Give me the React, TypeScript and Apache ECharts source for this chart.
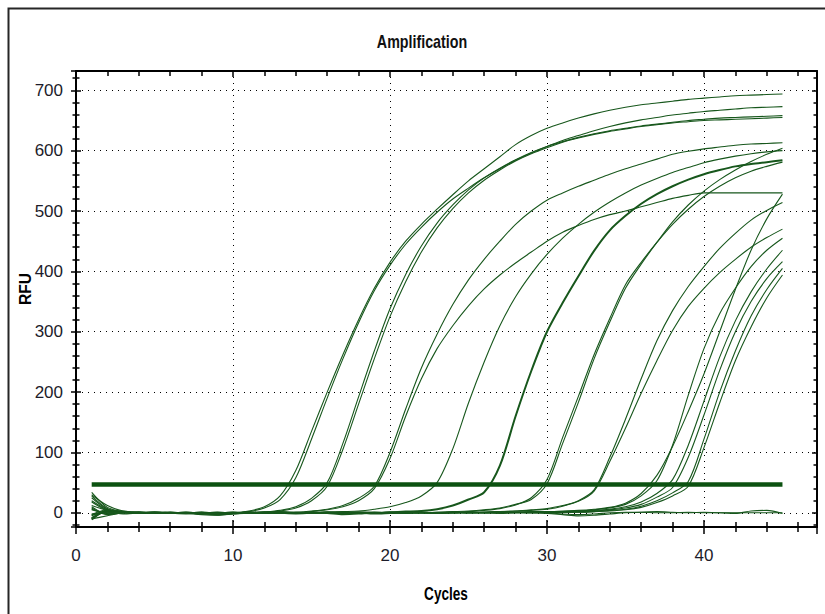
import React, { useEffect, useRef } from "react";
import * as echarts from "echarts";

// ---- data ----
const cycles = [1, 2, 3, 4, 5, 6, 7, 8, 9, 10, 11, 12, 13, 14, 15, 16, 17, 18, 19, 20, 21, 22, 23, 24, 25, 26, 27, 28, 29, 30, 31, 32, 33, 34, 35, 36, 37, 38, 39, 40, 41, 42, 43, 44, 45];

const thresholdValue = 47;
const thresholdSpan = [1, 45];

const wellA1 = [12, 4, 1, 0, 0, 1, 0, -2, -1, 0, 3, 10, 28, 70, 135, 200, 262, 320, 372, 415, 450, 478, 503, 527, 550, 570, 590, 610, 625, 637, 646, 654, 661, 667, 672, 676, 679, 682, 685, 687, 689, 691, 692, 693, 694];
const wellA2 = [-8, 2, 0, 1, -1, 0, 1, 0, -2, 0, 2, 8, 22, 58, 122, 190, 255, 315, 368, 410, 445, 473, 498, 520, 538, 555, 570, 584, 596, 607, 617, 625, 633, 640, 646, 651, 655, 659, 662, 665, 667, 669, 671, 672, 673];
const wellB1 = [20, 5, -2, 0, 1, 0, -1, 0, 1, 0, -1, 1, 4, 10, 24, 50, 115, 192, 268, 338, 395, 442, 480, 510, 535, 555, 571, 585, 597, 607, 615, 622, 628, 633, 637, 641, 644, 647, 650, 652, 654, 655, 656, 657, 658];
const wellB2 = [-5, 3, 1, -1, 0, 1, 0, -1, 0, 1, 0, 1, 3, 8, 20, 44, 105, 180, 255, 325, 383, 432, 472, 504, 530, 551, 568, 583, 595, 605, 614, 621, 627, 632, 636, 640, 643, 646, 648, 650, 651, 652, 653, 654, 655];
const wellC1 = [25, 6, 0, 1, 0, -1, 0, 1, 0, -1, 0, 1, 0, 1, 3, 6, 12, 24, 44, 100, 172, 240, 296, 345, 386, 420, 450, 478, 500, 518, 530, 541, 551, 561, 570, 578, 586, 594, 599, 603, 606, 609, 611, 612, 613];
const wellC2 = [-9, 2, 1, 0, -1, 0, 1, 0, -1, 0, 1, 0, 1, 0, 2, 5, 10, 20, 40, 90, 160, 222, 272, 310, 343, 371, 394, 414, 432, 450, 465, 476, 486, 494, 500, 507, 514, 521, 526, 530, 530, 530, 530, 530, 530];
const wellD = [8, -3, 0, 1, 0, -1, 0, 1, 0, -1, 0, 0, 1, 0, 0, 1, 2, 3, 6, 10, 17, 28, 50, 106, 182, 250, 310, 358, 396, 428, 455, 478, 498, 515, 530, 543, 554, 564, 572, 580, 586, 591, 595, 598, 600];
const wellE = [-11, 4, 2, 0, 1, 0, -1, 0, -3, -1, 0, 1, 0, -1, 0, 1, 0, 1, 0, 1, 2, 3, 6, 12, 22, 34, 78, 160, 235, 300, 348, 392, 434, 468, 492, 512, 528, 541, 552, 561, 568, 574, 578, 581, 584];
const wellF1 = [10, -2, 1, 0, -1, 0, 1, 0, 0, 1, 0, -1, 0, 1, 0, 0, -1, 0, 1, 0, 0, 1, 0, 1, 2, 4, 7, 13, 25, 55, 125, 193, 262, 322, 378, 415, 448, 478, 503, 524, 541, 555, 566, 574, 581];
const wellF2 = [-3, 5, 0, 1, 0, -1, 0, 0, 1, 0, -1, 0, 1, 0, -1, 0, 1, 0, 0, 1, 0, 0, 1, 2, 3, 5, 8, 14, 22, 48, 115, 183, 255, 316, 372, 412, 448, 482, 510, 533, 552, 568, 582, 594, 604];
const wellG1 = [5, -1, 0, 1, 0, 0, -1, 0, 1, 0, 0, 1, 0, 0, 1, 0, 0, -1, 0, 0, 1, 0, 0, 1, 0, 1, 2, 3, 4, 6, 11, 20, 38, 92, 155, 222, 285, 335, 375, 408, 438, 463, 485, 501, 514];
const wellG2 = [-8, 3, 1, 0, -1, 1, 0, 0, -1, 0, 1, 0, 0, -1, 0, 1, 0, 0, 1, 0, 0, 1, 0, 0, 1, 1, 2, 3, 5, 7, 12, 19, 36, 85, 140, 198, 252, 302, 342, 372, 398, 420, 440, 456, 470];
const wellL1 = [18, 4, 0, 1, 0, 0, -1, 0, 0, 1, 0, 0, -1, 0, 1, 0, 0, 0, -1, 0, 1, 0, 0, 1, 0, 0, 1, 1, 2, 2, 3, 4, 6, 9, 16, 32, 62, 110, 168, 230, 300, 370, 435, 487, 528];
const wellL2 = [-4, 2, 1, 0, 0, -1, 0, 1, 0, 0, 0, 1, 0, -1, 0, 0, 1, 0, 0, 0, -1, 0, 0, 1, 0, 0, 1, 1, 1, 2, 2, 3, 5, 8, 14, 28, 53, 112, 195, 272, 330, 372, 408, 435, 455];
const wellL3 = [28, 7, 1, 0, 1, 0, 0, -1, 0, 0, 1, 0, 0, 0, -1, 0, 0, 1, 0, 0, 0, 0, -1, 0, 1, 0, 0, 1, 1, 1, 2, 3, 4, 6, 10, 18, 32, 55, 112, 185, 258, 318, 366, 404, 435];
const wellL4 = [-2, 1, 0, 0, 1, 0, -1, 0, 0, 1, 0, 0, 1, 0, 0, -1, 0, 0, 0, 1, 0, 0, 0, 0, 0, 1, 0, 0, 1, 1, 1, 2, 3, 5, 8, 14, 26, 42, 92, 162, 236, 300, 350, 388, 416];
const wellL5 = [6, 0, 1, 0, 0, 0, 1, 0, -1, 0, 0, 0, 1, 0, 0, 0, 0, -1, 0, 0, 1, 0, 0, 0, 0, 0, 1, 0, 0, 1, 1, 1, 2, 4, 6, 11, 20, 33, 52, 122, 200, 268, 326, 370, 405];
const wellL6 = [34, 9, 2, 0, 1, 0, 0, 0, -1, 0, 1, 0, 0, 0, 0, 1, 0, 0, -1, 0, 0, 0, 1, 0, 0, 0, 0, 1, 0, 0, 1, 1, 2, 3, 5, 9, 17, 28, 44, 108, 182, 252, 308, 356, 394];
const wellN1 = [30, 12, 3, 1, 0, 0, -1, -3, -4, -2, 0, 1, 0, 0, -1, 0, 1, 0, -2, -1, 0, 1, 0, 0, 1, 0, -1, 0, 0, -1, -3, -5, -4, -2, 0, 1, 0, 0, 1, 0, 0, -1, 3, 4, -1];
const wellN2 = [-10, -5, 0, 1, 0, -1, 0, -2, -1, 0, 1, 0, 2, 1, 0, -1, -3, -2, 0, 1, 1, 0, -1, 0, 0, 1, 2, 1, 0, 0, -2, -3, -2, 0, 1, 1, 2, 1, 0, 1, 0, 0, 0, 0, 0];

const wells = [wellA1, wellA2, wellB1, wellB2, wellC1, wellC2, wellD, wellE, wellF1, wellF2, wellG1, wellG2, wellL1, wellL2, wellL3, wellL4, wellL5, wellL6, wellN1, wellN2];
const thickWells = [wellE];

const chartTitle = "Amplification";
const xName = "Cycles";
const yName = "RFU";

// ---- styling ----
const FONT = "'Liberation Sans', Arial, sans-serif";
const GREEN = "#17571c";
const X_MIN = 0;
const X_MAX = 47.2;
const Y_MIN = -23.5;
const Y_MAX = 732;
const GRID = { left: 76, top: 71, width: 741, height: 456 };

export default function App() {
  const ref = useRef<HTMLDivElement>(null);

  useEffect(() => {
    if (!ref.current) return;
    const chart = echarts.init(ref.current, null, { renderer: "svg" });

    const dotted = { color: "#000", type: [1, 5] as number[], width: 1 };
    const black = { color: "#000", width: 1.5 };

    const wellSeries = wells.map((w, i) => ({
      type: "line",
      name: "well" + i,
      xAxisIndex: 0,
      yAxisIndex: 0,
      data: cycles.map((c, k) => [c, w[k]]),
      symbol: "none",
      showSymbol: false,
      smooth: 0.3,
      silent: true,
      lineStyle: { color: GREEN, width: thickWells.includes(w) ? 2 : 1.1 },
      emphasis: { disabled: true },
      z: 2,
    }));

    const option: any = {
      animation: false,
      backgroundColor: "#ffffff",
      graphic: [
        {
          type: "rect",
          silent: true,
          shape: { x: 8.5, y: 8.5, width: 900, height: 700 },
          style: { fill: "none", stroke: "#262626", lineWidth: 2 },
        },
        {
          type: "text",
          silent: true,
          x: 422,
          y: 42,
          scaleX: 0.84,
          scaleY: 1.12,
          style: {
            text: chartTitle,
            fontFamily: FONT,
            fontSize: 17,
            fontWeight: "bold",
            fill: "#111",
            textAlign: "center",
            textVerticalAlign: "middle",
          },
        },
        {
          type: "text",
          silent: true,
          x: 446,
          y: 593,
          scaleX: 0.8,
          scaleY: 1.08,
          style: {
            text: xName,
            fontFamily: FONT,
            fontSize: 17,
            fontWeight: "bold",
            fill: "#000",
            textAlign: "center",
            textVerticalAlign: "middle",
          },
        },
        {
          type: "text",
          silent: true,
          x: 25,
          y: 289,
          rotation: Math.PI / 2,
          scaleX: 0.92,
          scaleY: 0.95,
          style: {
            text: yName,
            fontFamily: FONT,
            fontSize: 17,
            fontWeight: "bold",
            fill: "#000",
            textAlign: "center",
            textVerticalAlign: "middle",
          },
        },
      ],
      grid: [{ ...GRID }, { ...GRID }],
      xAxis: [
        {
          type: "value",
          gridIndex: 0,
          position: "bottom",
          min: X_MIN,
          max: X_MAX,
          interval: 10,
          axisLine: { show: true, onZero: false, lineStyle: { color: "#000", width: 2 } },
          axisTick: { show: true, inside: false, length: 7, lineStyle: black },
          minorTick: { show: true, splitNumber: 5, length: 5, lineStyle: black },
          axisLabel: { margin: 20, fontSize: 17, fontFamily: FONT, color: "#1c1c2a", showMaxLabel: false },
          splitLine: { show: true, lineStyle: dotted },
        },
        {
          type: "value",
          gridIndex: 0,
          position: "top",
          min: X_MIN,
          max: X_MAX,
          interval: 10,
          axisLine: { show: true, onZero: false, lineStyle: { color: "#000", width: 2 } },
          axisTick: { show: true, inside: true, length: 6, lineStyle: black },
          minorTick: { show: true, splitNumber: 5, length: 5, lineStyle: black },
          axisLabel: { show: false },
          splitLine: { show: false },
        },
        {
          type: "value",
          gridIndex: 1,
          position: "bottom",
          min: X_MIN,
          max: X_MAX,
          interval: 10,
          axisLine: { show: false, onZero: false },
          axisTick: { show: true, inside: true, length: 7, lineStyle: black },
          minorTick: { show: true, splitNumber: 5, length: 5, lineStyle: black },
          axisLabel: { show: false },
          splitLine: { show: false },
        },
      ],
      yAxis: [
        {
          type: "value",
          gridIndex: 0,
          position: "left",
          min: Y_MIN,
          max: Y_MAX,
          splitNumber: 7,
          axisLine: { show: true, onZero: false, lineStyle: { color: "#000", width: 2 } },
          axisTick: { show: true, inside: false, length: 5, lineStyle: black },
          minorTick: { show: true, splitNumber: 5, length: 3.5, lineStyle: black },
          axisLabel: { margin: 13, fontSize: 17, fontFamily: FONT, color: "#1c1c2a", showMinLabel: false, showMaxLabel: false },
          splitLine: { show: true, lineStyle: dotted },
        },
        {
          type: "value",
          gridIndex: 0,
          position: "right",
          min: Y_MIN,
          max: Y_MAX,
          splitNumber: 7,
          axisLine: { show: true, onZero: false, lineStyle: { color: "#000", width: 2 } },
          axisTick: { show: true, inside: true, length: 5, lineStyle: black },
          minorTick: { show: true, splitNumber: 5, length: 3.5, lineStyle: black },
          axisLabel: { show: false },
          splitLine: { show: false },
        },
        {
          type: "value",
          gridIndex: 1,
          position: "left",
          min: Y_MIN,
          max: Y_MAX,
          splitNumber: 7,
          axisLine: { show: false, onZero: false },
          axisTick: { show: true, inside: true, length: 5, lineStyle: black },
          minorTick: { show: true, splitNumber: 5, length: 3.5, lineStyle: black },
          axisLabel: { show: false },
          splitLine: { show: false },
        },
      ],
      series: [
        ...wellSeries,
        {
          type: "line",
          name: "threshold",
          xAxisIndex: 0,
          yAxisIndex: 0,
          data: thresholdSpan.map((c) => [c, thresholdValue]),
          symbol: "none",
          showSymbol: false,
          silent: true,
          lineStyle: { color: "#0c5211", width: 4.5 },
          emphasis: { disabled: true },
          z: 3,
        },
      ],
    };

    chart.setOption(option);
    return () => chart.dispose();
  }, []);

  return (
    <div
      ref={ref}
      style={{ position: "fixed", left: 0, top: 0, width: 825, height: 614, background: "#fff" }}
    />
  );
}
